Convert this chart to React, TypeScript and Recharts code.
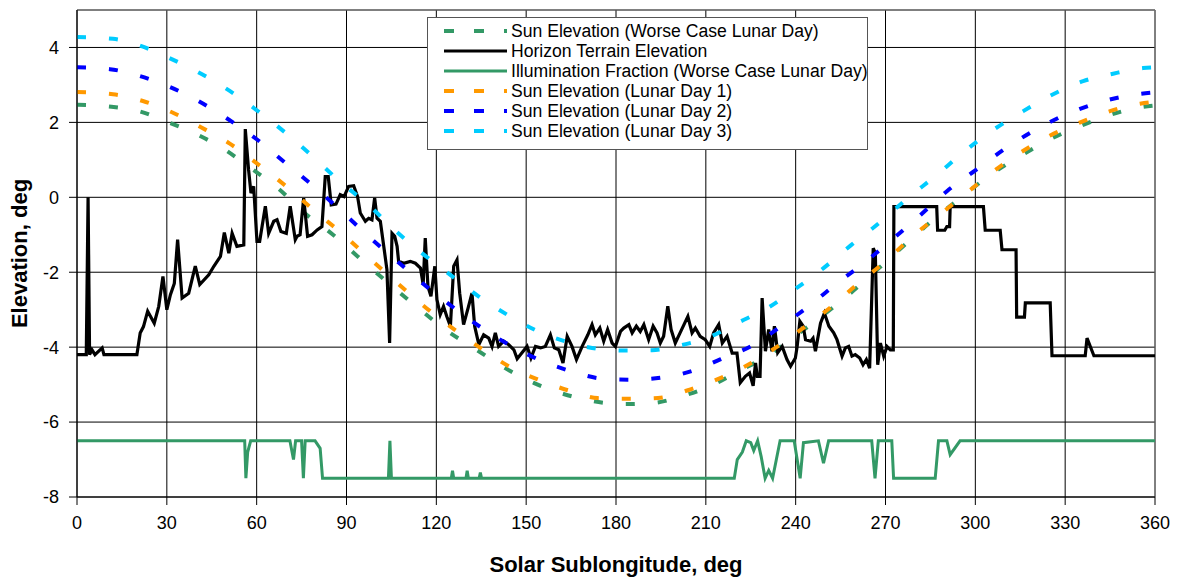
import { LineChart, Line, XAxis, YAxis, CartesianGrid, ReferenceLine, Legend } from 'recharts';

const xTicks = [0, 30, 60, 90, 120, 150, 180, 210, 240, 270, 300, 330, 360];
const yTicks = [-8, -6, -4, -2, 0, 2, 4];

// Sun elevation, worse case lunar day
const sunWorstDeg = [0, 11.5, 21, 30, 40, 49, 58, 67, 76, 85.5, 95, 104, 114, 123, 133.6, 143, 152.7, 162.5, 172.3, 182, 192.4, 202, 211.5, 221, 230.4, 239.5, 248, 257.7, 267.8, 276, 285.5, 295, 304, 315, 325, 335, 345, 355, 360];
const sunWorstElev = [2.47, 2.42, 2.29, 2.02, 1.68, 1.29, 0.78, 0.25, -0.42, -1.0, -1.67, -2.29, -2.96, -3.53, -4.08, -4.56, -4.96, -5.25, -5.44, -5.52, -5.49, -5.31, -5.04, -4.64, -4.24, -3.72, -3.22, -2.6, -1.89, -1.3, -0.63, -0.02, 0.54, 1.1, 1.55, 1.9, 2.2, 2.4, 2.45];

// Sun elevation, lunar day 1
const sunDay1Deg = [0, 12, 22, 31.7, 41.4, 50.9, 60.5, 69.9, 79.6, 89, 98.2, 107.4, 116.7, 126.4, 135.6, 145.3, 154.5, 163.9, 173.9, 184, 194, 204, 213.2, 223.2, 233.2, 242.5, 251.8, 260.7, 270, 278.9, 288.3, 297, 306, 315, 325, 335, 345, 355, 360];
const sunDay1Elev = [2.81, 2.75, 2.57, 2.27, 1.87, 1.44, 0.88, 0.29, -0.38, -1.0, -1.67, -2.32, -2.96, -3.55, -4.07, -4.56, -4.88, -5.15, -5.36, -5.38, -5.36, -5.15, -4.88, -4.51, -4.02, -3.49, -2.93, -2.31, -1.71, -1.05, -0.45, 0.11, 0.69, 1.19, 1.65, 2.0, 2.3, 2.5, 2.55];

// Sun elevation, lunar day 2
const sunDay2Deg = [0, 11, 20.8, 30.6, 40.3, 50, 60, 70, 79.8, 89, 98, 107.4, 116.7, 126, 136, 145.3, 155.6, 165.3, 175.3, 185.4, 195.6, 205.6, 215, 225.4, 234.3, 244, 253.6, 263, 272.2, 281.7, 290.6, 300, 310, 320, 330, 340, 350, 360];
const sunDay2Elev = [3.47, 3.42, 3.24, 2.96, 2.58, 2.11, 1.55, 0.89, 0.24, -0.42, -1.09, -1.74, -2.38, -2.96, -3.53, -3.98, -4.38, -4.65, -4.84, -4.87, -4.81, -4.63, -4.32, -3.96, -3.49, -2.93, -2.31, -1.74, -1.13, -0.47, 0.17, 0.72, 1.3, 1.8, 2.2, 2.5, 2.7, 2.8];

// Sun elevation, lunar day 3
const sunDay3Deg = [0, 12, 22, 31.6, 41.6, 51, 60.6, 69.8, 78.7, 87.8, 97.3, 106, 115.2, 125, 134.2, 143.6, 152.7, 162, 172, 182, 192, 201.6, 211.8, 220.4, 230.5, 240, 249.3, 258.3, 267.8, 277, 286.7, 296.3, 306, 316, 326, 336, 346, 356, 360];
const sunDay3Elev = [4.28, 4.23, 4.02, 3.69, 3.29, 2.84, 2.29, 1.71, 1.09, 0.42, -0.2, -0.87, -1.49, -2.09, -2.65, -3.13, -3.53, -3.82, -4.02, -4.09, -4.08, -3.95, -3.71, -3.36, -2.96, -2.44, -1.89, -1.29, -0.69, -0.05, 0.57, 1.22, 1.8, 2.3, 2.75, 3.1, 3.3, 3.45, 3.47];

// Horizon terrain elevation
const horizonDeg = [0, 3.1, 3.7, 4.2, 5, 6, 8.4, 9, 20, 21.1, 22.2, 23.6, 25.8, 27.3, 28.7, 30, 31.2, 32.5, 33.6, 35.1, 37.3, 39.5, 41, 44, 45.7, 47.9, 49.2, 50.7, 51.8, 53.4, 55.7, 56.2, 57.3, 58.1, 59, 60.1, 61, 61.8, 62.9, 64, 65.7, 66.8, 68.1, 69.9, 71.2, 72.9, 73.5, 74.5, 75.7, 77, 78.5, 80.2, 81.8, 82.9, 83.9, 84.9, 86.5, 87.9, 89.2, 90.7, 92.4, 93.7, 94.6, 96.3, 97.4, 98.5, 99.4, 100.2, 101.3, 102.6, 103.5, 104.4, 105.2, 106.1, 106.9, 107.4, 109.1, 111.3, 113, 114.7, 115.6, 116.3, 117.2, 118.2, 119.5, 120.2, 121.3, 122.4, 123.5, 124.7, 125.8, 126.9, 127.8, 129.1, 130.6, 131.9, 132.8, 134.2, 135.8, 137.5, 138.6, 139.7, 140.8, 142.5, 144.1, 145.9, 147, 148.6, 150.3, 151.6, 153.1, 154.8, 156.4, 158.1, 159.4, 160.9, 162.3, 163.7, 165.3, 166.8, 168.7, 170.6, 172, 173.1, 174.6, 175.9, 177.2, 178.7, 179.8, 181.5, 182.6, 184.3, 185.4, 186.8, 188.1, 189.3, 190.9, 192.4, 193.7, 194.8, 195.9, 197.3, 198.4, 199.8, 201.4, 204, 205.4, 206.5, 208.1, 209.8, 211.3, 212.6, 214.3, 215.5, 217.1, 218.8, 220.4, 221.5, 223.2, 224.6, 225.8, 226.6, 227.2, 228.1, 228.8, 229.9, 231, 232.1, 232.9, 234, 235.5, 237.1, 238.3, 239.9, 240.5, 241.4, 242.5, 243.3, 245, 245.8, 246.6, 248.3, 249.6, 251.1, 252.7, 253.8, 255.5, 256.6, 257.7, 258.8, 259.9, 261.4, 262.5, 263.6, 264.7, 265.9, 266.6, 267.4, 268.3, 269.4, 270.5, 271.6, 272.6, 272.8, 287.1, 287.4, 289.8, 290.5, 291.4, 291.6, 302.7, 303.3, 308.3, 308.9, 313.6, 313.8, 316.4, 316.7, 325, 325.6, 336.7, 337.3, 339.6, 360];
const horizonElev = [-4.2, -4.2, 0.0, -4.2, -4.07, -4.2, -4.02, -4.2, -4.2, -3.62, -3.45, -3.04, -3.36, -2.91, -2.11, -3.0, -2.6, -2.3, -1.13, -2.69, -2.56, -1.84, -2.33, -2.07, -1.84, -1.58, -0.94, -1.49, -0.96, -1.31, -1.27, 1.82, 0.73, 0.11, 0.29, -1.18, -1.18, -0.78, -0.24, -0.96, -0.64, -0.6, -0.91, -0.96, -0.24, -1.13, -1.04, -1.0, -0.02, -1.04, -1.0, -0.87, -0.78, 0.55, 0.55, -0.2, -0.18, 0.07, 0.02, 0.29, 0.31, 0.02, -0.42, -0.64, -0.56, -0.6, -0.02, -0.56, -0.64, -1.4, -1.93, -3.89, -0.96, -1.04, -1.31, -1.71, -1.76, -1.71, -1.76, -1.89, -2.33, -1.09, -2.38, -2.64, -1.84, -2.73, -3.13, -2.91, -3.18, -3.44, -1.84, -1.67, -2.56, -3.4, -2.96, -2.56, -3.44, -3.93, -3.67, -3.76, -3.98, -3.62, -3.98, -3.84, -3.93, -4.07, -4.31, -4.15, -3.98, -4.29, -3.98, -4.02, -3.98, -3.67, -4.02, -4.07, -4.42, -3.71, -3.98, -4.33, -3.98, -3.67, -3.4, -3.67, -3.49, -3.84, -3.53, -3.89, -3.98, -3.58, -3.49, -3.4, -3.62, -3.44, -3.58, -3.4, -3.8, -3.44, -3.62, -3.89, -3.71, -2.91, -3.53, -3.89, -3.62, -3.18, -3.62, -3.49, -3.71, -3.8, -3.98, -3.62, -3.4, -3.89, -3.71, -4.16, -4.16, -4.95, -4.78, -4.69, -5.03, -4.42, -4.78, -4.78, -2.69, -4.11, -3.53, -4.11, -3.44, -4.15, -3.98, -4.33, -4.51, -4.29, -3.98, -3.31, -3.44, -3.8, -3.84, -3.76, -4.11, -3.36, -3.09, -3.44, -3.62, -3.8, -4.24, -4.02, -3.98, -4.24, -4.2, -4.29, -4.47, -4.33, -4.56, -1.36, -1.49, -4.47, -3.89, -4.24, -3.98, -4.07, -4.07, -0.25, -0.25, -0.88, -0.88, -0.78, -0.78, -0.25, -0.25, -0.88, -0.88, -1.4, -1.4, -3.2, -3.2, -2.82, -2.82, -4.23, -4.23, -3.76, -4.23, -4.23];

// Illumination fraction, worse case lunar day (plotted on the elevation scale)
const illumDeg = [0, 56, 56.4, 57, 58, 71.1, 72.3, 73, 75, 75.6, 76.2, 79.5, 81.2, 82, 104, 104.5, 105, 125, 125.4, 125.8, 129.9, 130.3, 130.7, 134.3, 134.7, 135.1, 219.5, 220.5, 222.2, 223.5, 225, 226, 227.3, 228.5, 229.8, 231, 232.3, 233.5, 234.8, 239.5, 241.5, 242.6, 247.6, 249.3, 251, 265.4, 266.5, 267.6, 272.1, 272.7, 286.6, 287.7, 290.5, 291.6, 294.9, 360];
const illumElev = [-6.5, -6.5, -7.5, -6.8, -6.5, -6.5, -7.0, -6.5, -6.5, -7.5, -6.5, -6.5, -6.7, -7.5, -7.5, -6.5, -7.5, -7.5, -7.3, -7.5, -7.5, -7.3, -7.5, -7.5, -7.35, -7.5, -7.5, -7.0, -6.8, -6.5, -6.55, -6.76, -6.5, -6.93, -7.5, -7.29, -7.5, -7.02, -6.5, -6.5, -7.5, -6.55, -6.5, -7.1, -6.5, -6.5, -7.5, -6.5, -6.5, -7.5, -7.5, -6.5, -6.5, -6.87, -6.5, -6.5];

const toPoints = (xs: number[], ys: number[]) => xs.map((x, i) => ({ x, y: ys[i] }));

const FONT = '"Liberation Sans", Arial, sans-serif';
const DASH = '9 23';

const legendItems = [
  { label: 'Sun Elevation (Worse Case Lunar Day)', color: '#339966', dashed: true },
  { label: 'Horizon Terrain Elevation', color: '#000000', dashed: false },
  { label: 'Illumination Fraction (Worse Case Lunar Day)', color: '#339966', dashed: false },
  { label: 'Sun Elevation (Lunar Day 1)', color: '#FF9900', dashed: true },
  { label: 'Sun Elevation (Lunar Day 2)', color: '#0000FF', dashed: true },
  { label: 'Sun Elevation (Lunar Day 3)', color: '#00CCFF', dashed: true },
];

function LegendBox() {
  return (
    <div
      style={{
        width: 441,
        height: 133,
        boxSizing: 'border-box',
        border: '1px solid #555',
        background: '#fff',
        paddingTop: 3,
        fontFamily: FONT,
        fontSize: 17.6,
        color: '#000',
      }}
    >
      {legendItems.map((it) => (
        <div key={it.label} style={{ display: 'flex', alignItems: 'center', height: 20 }}>
          <svg width={80} height={20} style={{ flex: 'none' }}>
            <line
              x1={16}
              x2={79}
              y1={10}
              y2={10}
              stroke={it.color}
              strokeWidth={it.dashed ? 4 : 3}
              strokeDasharray={it.dashed ? '10 20' : undefined}
            />
          </svg>
          <span style={{ marginLeft: 3, whiteSpace: 'nowrap' }}>{it.label}</span>
        </div>
      ))}
    </div>
  );
}

export default function App() {
  const tickStyle = { fill: '#000', fontSize: 18, fontFamily: FONT };
  const titleStyle = { fontWeight: 'bold', fontSize: 22, fill: '#000', fontFamily: FONT };
  return (
    <div style={{ position: 'absolute', left: 0, top: 0, width: 1178, height: 578, background: '#fff', fontFamily: FONT }}>
      <LineChart width={1178} height={578} margin={{ top: 10, right: 23, bottom: 3, left: 0 }}>
        <CartesianGrid stroke="#000" strokeWidth={1} />
        <XAxis
          type="number"
          dataKey="x"
          domain={[0, 360]}
          ticks={xTicks}
          interval={0}
          height={78}
          tickSize={8}
          tickMargin={11}
          stroke="#000"
          tick={tickStyle}
          label={{ value: 'Solar Sublongitude, deg', position: 'insideBottom', offset: 3, style: titleStyle }}
        />
        <YAxis
          type="number"
          domain={[-8, 5]}
          ticks={yTicks}
          interval={0}
          width={77}
          tickSize={8}
          tickMargin={10}
          stroke="#000"
          tick={tickStyle}
          label={{
            value: 'Elevation, deg',
            angle: -90,
            position: 'insideLeft',
            offset: 19,
            style: { ...titleStyle, textAnchor: 'middle' },
          }}
        />
        <ReferenceLine y={5} stroke="#808080" strokeWidth={1} />
        <ReferenceLine x={360} stroke="#808080" strokeWidth={1} />
        <Legend
          layout="vertical"
          align="center"
          verticalAlign="middle"
          content={() => <LegendBox />}
          wrapperStyle={{ left: 427, top: 17, width: 441, height: 133 }}
        />
        <Line
          data={toPoints(sunWorstDeg, sunWorstElev)}
          dataKey="y"
          type="monotone"
          stroke="#339966"
          strokeWidth={4}
          strokeDasharray={DASH}
          dot={false}
          isAnimationActive={false}
        />
        <Line
          data={toPoints(horizonDeg, horizonElev)}
          dataKey="y"
          type="linear"
          stroke="#000"
          strokeWidth={3.2}
          dot={false}
          isAnimationActive={false}
        />
        <Line
          data={toPoints(illumDeg, illumElev)}
          dataKey="y"
          type="linear"
          stroke="#339966"
          strokeWidth={3}
          dot={false}
          isAnimationActive={false}
        />
        <Line
          data={toPoints(sunDay1Deg, sunDay1Elev)}
          dataKey="y"
          type="monotone"
          stroke="#FF9900"
          strokeWidth={4}
          strokeDasharray={DASH}
          dot={false}
          isAnimationActive={false}
        />
        <Line
          data={toPoints(sunDay2Deg, sunDay2Elev)}
          dataKey="y"
          type="monotone"
          stroke="#0000FF"
          strokeWidth={4}
          strokeDasharray={DASH}
          dot={false}
          isAnimationActive={false}
        />
        <Line
          data={toPoints(sunDay3Deg, sunDay3Elev)}
          dataKey="y"
          type="monotone"
          stroke="#00CCFF"
          strokeWidth={4}
          strokeDasharray={DASH}
          dot={false}
          isAnimationActive={false}
        />
      </LineChart>
    </div>
  );
}
